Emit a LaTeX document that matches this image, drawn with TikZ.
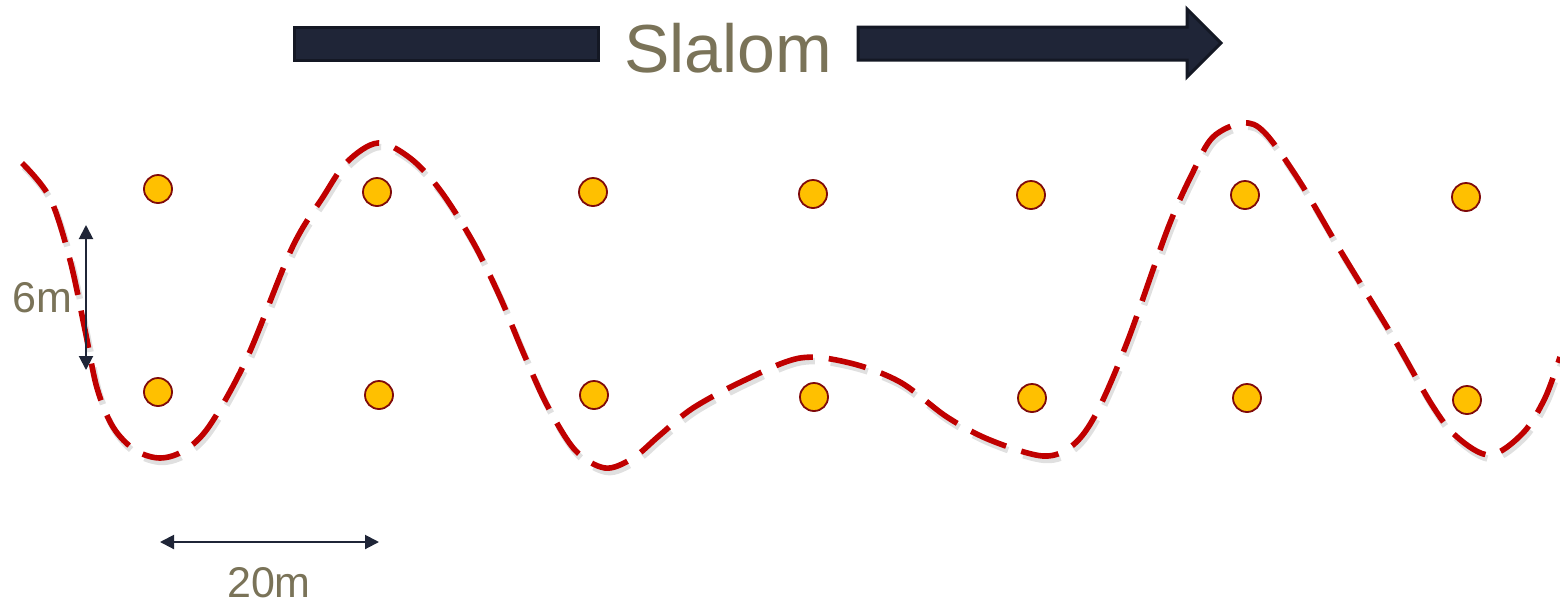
\documentclass[tikz,border=0pt]{standalone}
\usepackage{fontspec}
\setmainfont{Liberation Sans}
\usetikzlibrary{arrows.meta}
\definecolor{navy}{HTML}{1F2537}
\definecolor{navyedge}{HTML}{141824}
\definecolor{olive}{HTML}{7A7358}
\definecolor{pathred}{HTML}{C00000}
\definecolor{conefill}{HTML}{FFC000}
\definecolor{coneedge}{HTML}{7F0A0A}
\tikzset{
  cone/.style={circle, fill=conefill, draw=coneedge, line width=0.9pt, minimum size=14pt, inner sep=0pt},
  slalompath/.style={pathred, line width=2.8pt, dash pattern=on 19pt off 8pt},
  pathshadow/.style={black, opacity=0.12, line width=3.2pt, dash pattern=on 19pt off 8pt},
  dimarrow/.style={navy, line width=1pt, {Triangle[length=7pt,width=7pt]}-{Triangle[length=7pt,width=7pt]}},
  dimlabel/.style={olive, font=\fontsize{21.5}{24}\selectfont, inner sep=0pt},
  bigarrow/.style={fill=navy, draw=navyedge, line width=1.5pt, line join=miter}
}
\begin{document}
\begin{tikzpicture}[x=0.5pt, y=-0.5pt]
\useasboundingbox (0,0) rectangle (1560,602);
% big direction arrow
\filldraw[bigarrow] (294,27) rectangle (598,60);
\filldraw[bigarrow] (858,27) -- (1187,27) -- (1187,9) -- (1221,43) -- (1187,77) -- (1187,60) -- (858,60) -- cycle;
\node[olive, font=\fontsize{34}{40}\selectfont, anchor=base, inner sep=0pt] (title) at (728,72) {Slalom};
% cones
\node[cone] (t1) at (158,189) {};
\node[cone] (t2) at (377,192) {};
\node[cone] (t3) at (593,192) {};
\node[cone] (t4) at (813,194) {};
\node[cone] (t5) at (1031,195) {};
\node[cone] (t6) at (1245,195) {};
\node[cone] (t7) at (1466,197) {};
\node[cone] (b1) at (158,392) {};
\node[cone] (b2) at (379,395) {};
\node[cone] (b3) at (594,395) {};
\node[cone] (b4) at (814,397) {};
\node[cone] (b5) at (1032,398) {};
\node[cone] (b6) at (1247,398) {};
\node[cone] (b7) at (1467,400) {};
% slalom path
\def\slalompts{(22,163) (50,198) (70,260) (85,330) (97,388) (113,427) (135,450) (160,458) (185,450) (210,425) (247,358) (292,248) (323,197) (347,162) (378,143) (410,158) (440,190) (473,242) (500,297) (523,352) (547,405) (575,450) (605,468) (633,458) (660,435) (693,408) (745,380) (800,358) (850,363) (900,382) (947,417) (990,440) (1043,456) (1073,445) (1097,412) (1128,340) (1168,228) (1193,172) (1213,137) (1243,123) (1265,133) (1300,182) (1340,250) (1393,337) (1432,405) (1457,437) (1490,455) (1523,433) (1545,398) (1560,357)}
\begin{scope}[shift={(2,4)}]
\draw[pathshadow] plot[smooth, tension=0.55] coordinates {\slalompts};
\end{scope}
\draw[slalompath] plot[smooth, tension=0.55] coordinates {\slalompts};
% dimensions
\coordinate (v1) at (86,225);
\coordinate (v2) at (86,370);
\draw[dimarrow] (v1) -- (v2);
\node[dimlabel] (six) at (42,298) {6m};
\coordinate (h1) at (160,542);
\coordinate (h2) at (379,542);
\draw[dimarrow] (h1) -- (h2);
\node[dimlabel] (twenty) at (269,583) {20m};
\end{tikzpicture}
\end{document}
